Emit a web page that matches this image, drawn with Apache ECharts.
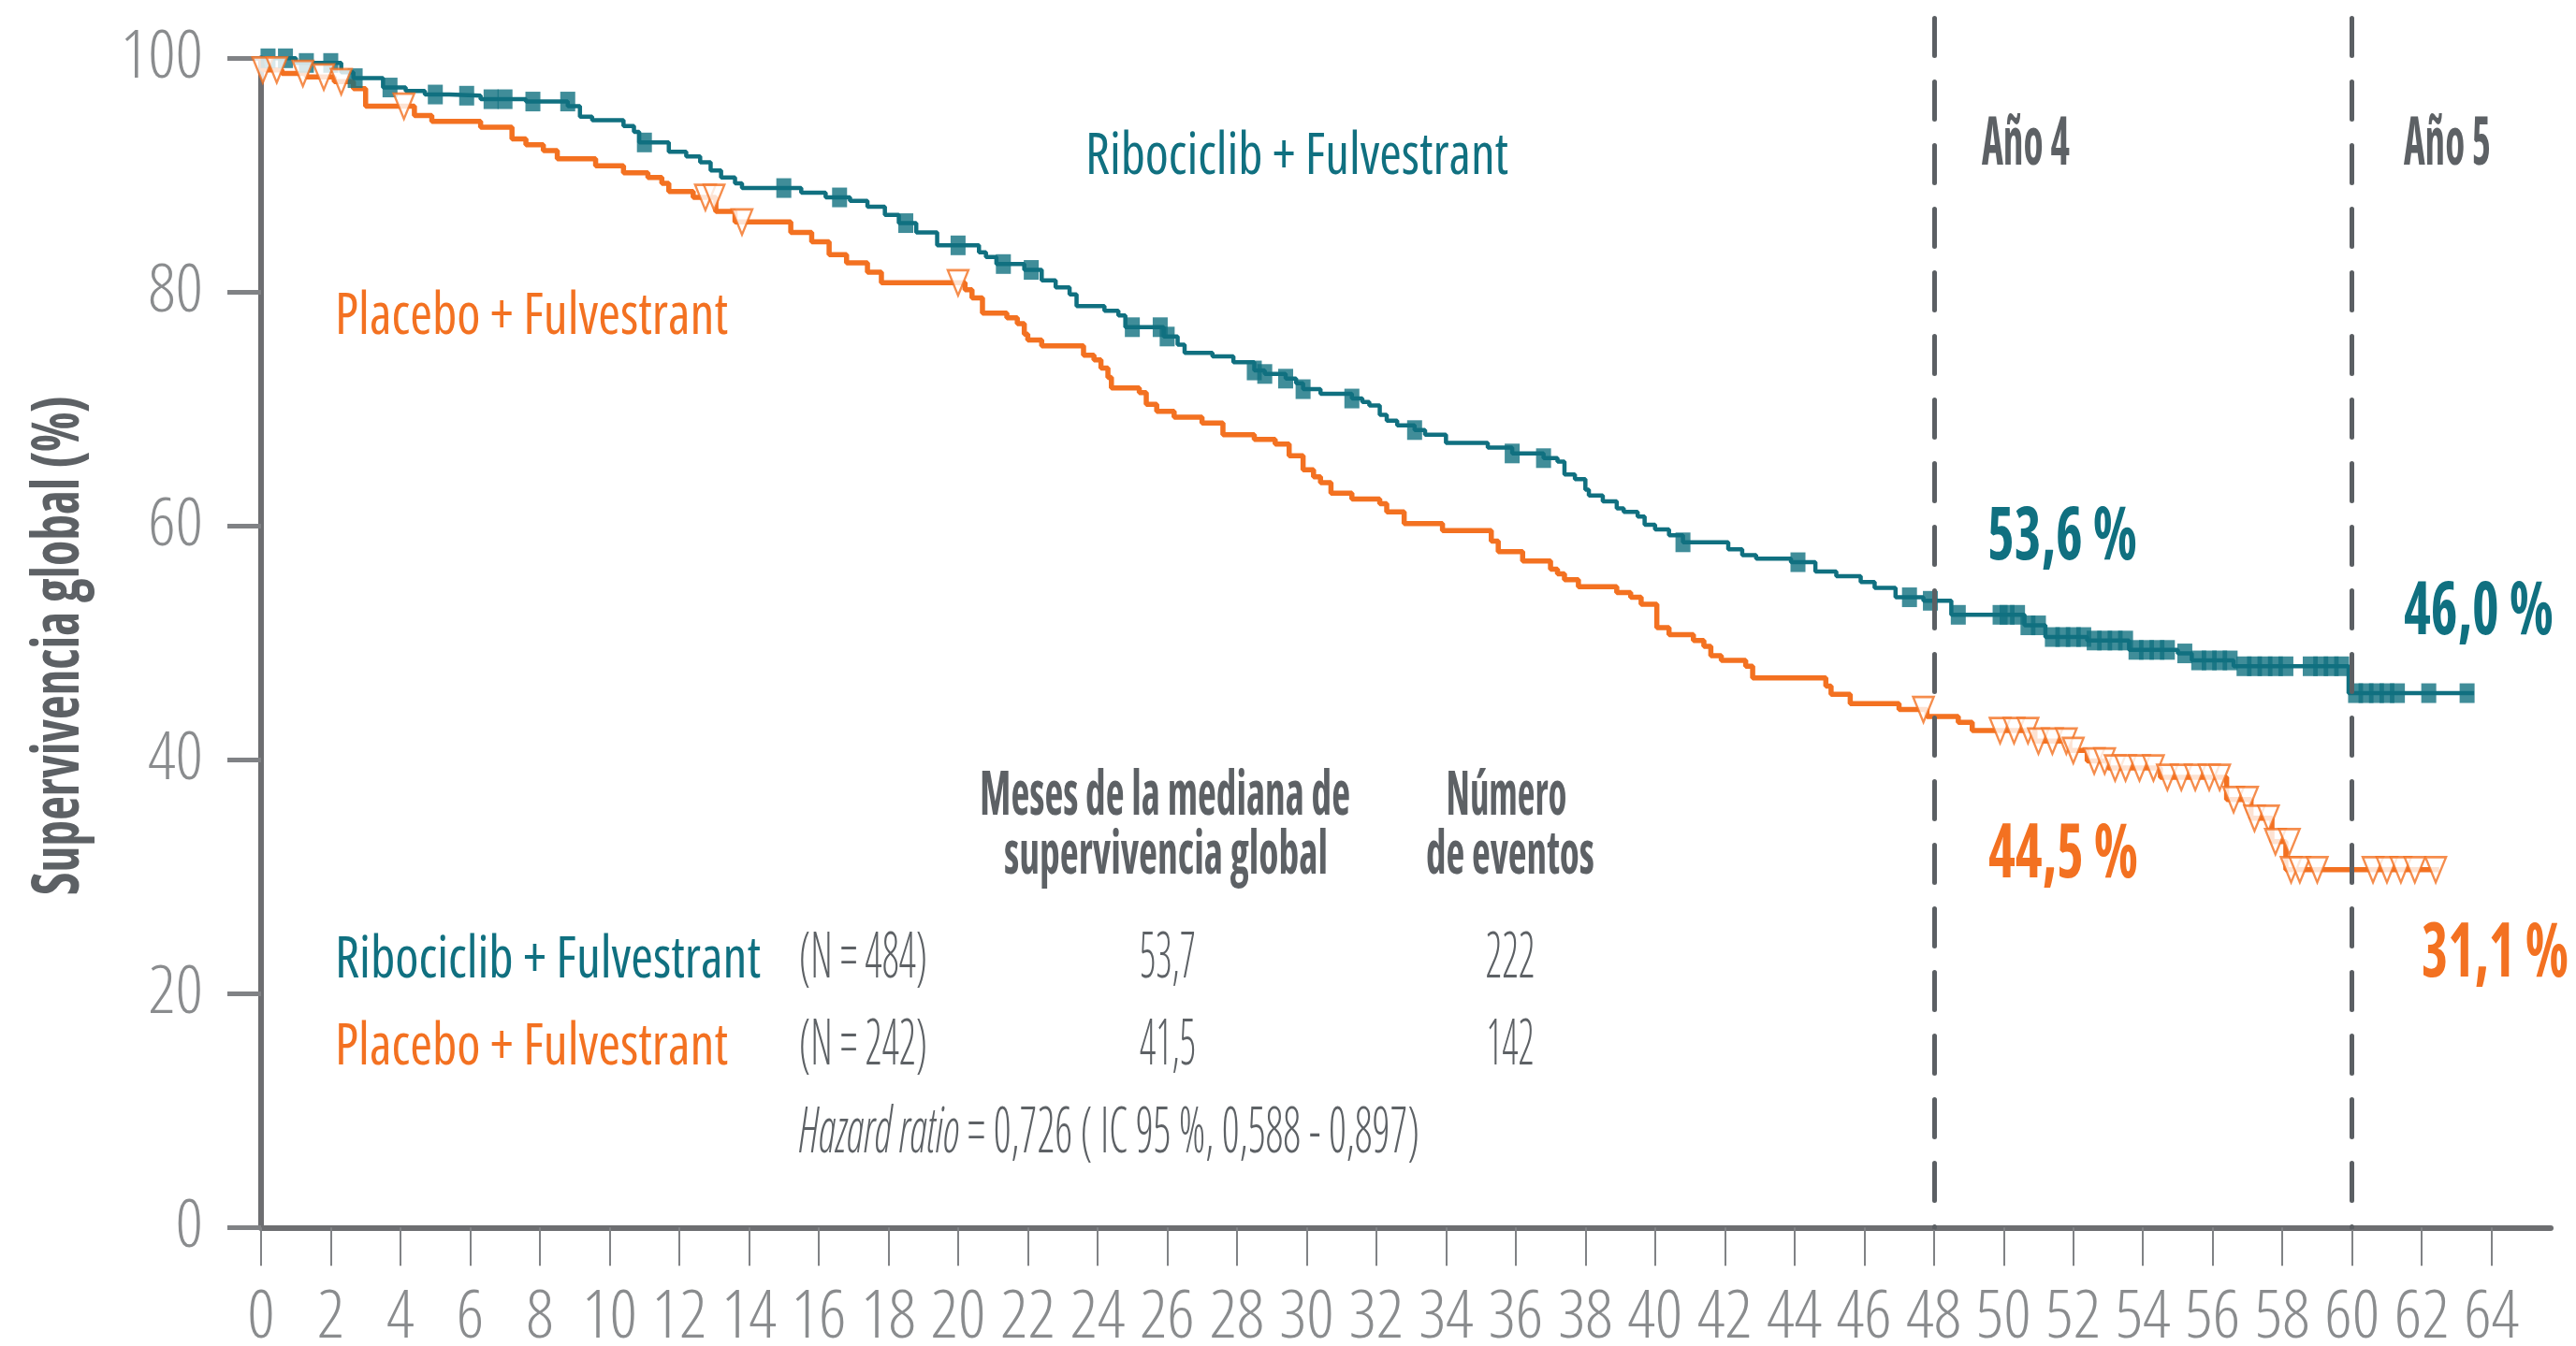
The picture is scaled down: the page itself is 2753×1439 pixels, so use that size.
<!DOCTYPE html>
<html><head><meta charset="utf-8">
<script src="https://cdn.jsdelivr.net/npm/echarts@6.0.0/dist/echarts.min.js"></script>
<style>html,body{margin:0;padding:0;background:#fff}#c{width:2753px;height:1439px}</style>
</head><body><div id="c"></div><script>
// ---------------- DATA ----------------
const xTicks = [0,2,4,6,8,10,12,14,16,18,20,22,24,26,28,30,32,34,36,38,40,42,44,46,48,50,52,54,56,58,60,62,64];
const yTicks = [0,20,40,60,80,100];
const yearMarks = [48, 60];

// Ribociclib + Fulvestrant: KM steps [month, % survival]
const ribociclibSteps = [
[0,100],[1.0,99.6],[2.3,98.8],[2.65,98.3],[3.5,97.5],[4.15,97.2],[4.7,96.9],[5.4,96.8],[6.3,96.5],[7.6,96.3],
[8.8,95.9],[9.15,95.0],[9.5,94.7],[10.4,94.2],[10.7,93.7],[10.85,92.8],[11.7,92.0],[12.2,91.6],[12.6,91.1],[12.9,90.4],
[13.2,89.8],[13.6,89.3],[13.8,88.9],[15.5,88.5],[16.2,88.1],[16.9,87.8],[17.4,87.3],[17.9,86.6],[18.3,85.9],[18.8,85.1],
[19.4,84.0],[20.6,83.4],[20.8,83.0],[21.1,82.4],[21.9,81.9],[22.4,81.0],[22.8,80.4],[23.2,79.8],[23.4,78.8],[24.2,78.4],
[24.6,78.0],[24.8,77.0],[25.9,76.2],[26.3,75.5],[26.5,74.8],[27.3,74.5],[27.9,74.0],[28.5,73.3],[28.8,73.0],[29.4,72.6],
[29.7,72.2],[29.9,71.7],[30.4,71.3],[31.3,70.9],[31.6,70.6],[31.8,70.3],[32.1,69.5],[32.3,69.0],[32.6,68.6],[33.1,68.2],
[33.4,67.8],[34.0,67.1],[35.2,66.7],[35.9,66.2],[36.8,65.8],[37.2,65.5],[37.4,64.4],[37.7,64.0],[38.0,63.1],[38.1,62.6],
[38.5,62.1],[38.9,61.5],[39.1,61.2],[39.5,60.8],[39.7,60.1],[40.0,59.7],[40.4,59.2],[40.8,58.6],[42.1,58.0],[42.5,57.5],
[42.9,57.2],[43.9,56.9],[44.6,56.1],[45.2,55.7],[45.9,55.2],[46.3,54.7],[46.9,53.9],[47.7,53.6],[48.5,52.4],[50.6,51.5],
[51.2,50.5],[52.4,50.2],[53.6,49.4],[55.0,49.1],[55.4,48.5],[56.6,48.0],[59.9,45.7],[63.5,45.7]
];
// Placebo + Fulvestrant: KM steps [month, % survival]
const placeboSteps = [
[0,100],[0.05,99.0],[0.6,98.7],[1.3,98.4],[2.1,98.0],[2.65,97.4],[3.0,95.9],[4.4,95.1],[4.9,94.6],[6.3,94.1],
[7.2,93.1],[7.6,92.6],[8.1,92.1],[8.5,91.4],[9.6,90.8],[10.4,90.2],[11.1,89.8],[11.5,89.3],[11.7,88.6],[12.4,88.1],
[13.05,86.9],[13.6,86.0],[15.2,85.1],[15.8,84.3],[16.3,83.2],[16.8,82.5],[17.4,81.7],[17.8,80.8],[20.2,80.2],[20.4,79.5],
[20.7,78.2],[21.4,77.8],[21.7,77.3],[21.9,76.4],[22.0,75.9],[22.4,75.4],[23.6,74.6],[23.9,74.2],[24.1,73.5],[24.3,72.7],
[24.4,71.8],[25.2,71.4],[25.4,70.4],[25.7,69.8],[26.2,69.3],[27.0,68.8],[27.6,67.8],[28.5,67.4],[29.1,67.0],[29.5,66.0],
[29.9,64.8],[30.2,64.2],[30.4,63.7],[30.7,62.8],[31.3,62.3],[32.1,61.9],[32.3,61.2],[32.8,60.2],[33.9,59.6],[35.3,58.7],
[35.5,57.8],[36.2,57.0],[37.0,56.3],[37.2,55.9],[37.4,55.4],[37.8,54.8],[38.9,54.3],[39.3,53.9],[39.6,53.3],[40.05,51.3],
[40.4,50.7],[41.1,50.2],[41.4,49.7],[41.6,48.9],[41.9,48.5],[42.6,48.0],[42.8,47.0],[44.9,46.3],[45.05,45.6],[45.6,44.8],
[47.0,44.3],[47.8,43.7],[48.7,43.2],[49.1,42.5],[50.9,41.6],[51.9,40.8],[52.4,39.9],[53.0,39.3],[54.5,38.5],[56.4,36.6],
[57.1,35.0],[57.7,33.0],[58.1,30.6],[62.5,30.6]
];
// censored observations
const ribociclibCensored = [
[0.2,100],[0.7,100],[1.3,99.6],[2.0,99.6],[2.7,98.3],[3.7,97.5],[5.0,96.9],[5.9,96.8],[6.6,96.5],[7.0,96.5],
[7.8,96.3],[8.8,96.3],[11.0,92.8],[15.0,88.9],[16.6,88.1],[18.5,85.9],[20.0,84.0],[21.3,82.4],[22.1,81.9],[25.0,77.0],
[25.8,77.0],[26.0,76.2],[28.5,73.3],[28.8,73.0],[29.4,72.6],[29.9,71.7],[31.3,70.9],[33.1,68.2],[35.9,66.2],[36.8,65.8],
[40.8,58.6],[44.1,56.9],[47.3,53.9],[47.9,53.6],[48.7,52.4],[49.9,52.4],[50.1,52.4],[50.4,52.4],[50.7,51.5],[51.0,51.5],
[51.4,50.5],[51.7,50.5],[52.0,50.5],[52.3,50.5],[52.6,50.2],[52.9,50.2],[53.2,50.2],[53.5,50.2],[53.8,49.4],[54.1,49.4],
[54.4,49.4],[54.7,49.4],[55.2,49.1],[55.6,48.5],[55.9,48.5],[56.2,48.5],[56.5,48.5],[56.9,48.0],[57.2,48.0],[57.5,48.0],
[57.8,48.0],[58.1,48.0],[58.8,48.0],[59.1,48.0],[59.4,48.0],[59.7,48.0],[60.1,45.7],[60.4,45.7],[60.7,45.7],[61.0,45.7],
[61.3,45.7],[62.2,45.7],[63.3,45.7]
];
const placeboCensored = [
[0.05,99.0],[0.45,99.0],[1.2,98.7],[1.8,98.4],[2.3,98.0],[4.1,95.9],[12.75,88.1],[13.0,88.1],[13.8,86.0],[20.0,80.8],
[47.7,44.3],[49.9,42.5],[50.3,42.5],[50.7,42.5],[51.0,41.6],[51.4,41.6],[51.8,41.6],[52.0,40.8],[52.6,39.9],[52.9,39.9],
[53.2,39.3],[53.5,39.3],[53.9,39.3],[54.3,39.3],[54.7,38.5],[55.1,38.5],[55.5,38.5],[55.9,38.5],[56.2,38.5],[56.6,36.6],
[57.0,36.6],[57.2,35.0],[57.6,35.0],[57.8,33.0],[58.2,33.0],[58.25,30.6],[58.5,30.6],[59.0,30.6],[60.6,30.6],[61.0,30.6],
[61.4,30.6],[61.8,30.6],[62.4,30.6]
];

// ---------------- STYLE ----------------
const TEAL = '#107080', ORANGE = '#f37121', GRAY = '#5d6165', AXIS = '#6d6e71', TICKTXT = '#8a8c8e';

// pick the narrowest installed sans face (condensed if available)
const mctx = document.createElement('canvas').getContext('2d');
function mw(font, s) { mctx.font = '1px serif'; mctx.font = font; return mctx.measureText(s).width; }
const named = ['Noto Sans ExtraCondensed','Noto Sans Condensed','Noto Sans SemiCondensed','Roboto Condensed',
  'Liberation Sans Narrow','DejaVu Sans Condensed','Open Sans Condensed','Noto Sans Display ExtraCondensed','Noto Sans Display Condensed'];
const fams = ['Noto Sans','Open Sans','Roboto','Inter','Lato','Liberation Sans','DejaVu Sans'];
const stretches = ['ultra-condensed','extra-condensed','condensed','semi-condensed','normal'];
const cands = [];
named.forEach(f => cands.push({fam: f, st: 'normal'}));
fams.forEach(f => stretches.forEach(s => cands.push({fam: f, st: s})));
let best = null;
cands.forEach(c => {
  const a = mw(c.st + ' normal 100px "' + c.fam + '", monospace', '0123456789');
  const b = mw(c.st + ' normal 100px "' + c.fam + '", serif', '0123456789');
  if (a > 200 && Math.abs(a - b) < 0.5 && (!best || a < best.w - 0.5)) best = {fam: c.fam, st: c.st, w: a};
});
if (!best) best = {fam: 'Roboto', st: 'normal', w: 0};
const FAM = '"' + best.fam + '", "Roboto", sans-serif';
const ST = best.st;

function fontStr(size, weight, italic) {
  return (italic ? 'italic ' : '') + ST + ' ' + (weight || 'normal') + ' ' + size + 'px ' + FAM;
}
function metrics(weight, italic, ch) {
  mctx.font = fontStr(100, weight, italic);
  mctx.textBaseline = 'alphabetic';
  const cap = mctx.measureText(ch || 'H').actualBoundingBoxAscent / 100;
  mctx.textBaseline = 'middle';
  const aMid = mctx.measureText(ch || 'H').actualBoundingBoxAscent / 100;
  mctx.textBaseline = 'alphabetic';
  return {cap: cap, aMid: aMid};
}
function textW(str, size, weight, italic) {
  mctx.font = fontStr(size, weight, italic);
  return mctx.measureText(str).width;
}
function txt(o) {
  const m = metrics(o.wt);
  const size = o.cap / m.cap;
  const sx = o.w / textW(o.t, size, o.wt);
  return {
    type: 'text', x: o.x, y: o.base - o.cap + m.aMid * size, scaleX: sx, z: 100, silent: true,
    style: { text: o.t, fill: o.c || GRAY, fontSize: size, fontFamily: FAM, fontStyle: ST, fontWeight: o.wt || 'normal',
      align: o.align || 'left', verticalAlign: 'middle', textAlign: o.align || 'left', textVerticalAlign: 'middle' }
  };
}
const texts = [
  {t:'Ribociclib + Fulvestrant', x:1160, base:186, cap:45, w:452, c:TEAL, wt:500},
  {t:'Placebo + Fulvestrant', x:358, base:357, cap:45, w:420, c:ORANGE, wt:500},
  {t:'Año 4', x:2118, base:176, cap:51, w:94, c:GRAY, wt:'bold'},
  {t:'Año 5', x:2569, base:176, cap:51, w:93, c:GRAY, wt:'bold'},
  {t:'53,6 %', x:2124, base:598, cap:57, w:160, c:TEAL, wt:'bold'},
  {t:'46,0 %', x:2569, base:678, cap:57, w:160, c:TEAL, wt:'bold'},
  {t:'44,5 %', x:2125, base:938, cap:58, w:160, c:ORANGE, wt:'bold'},
  {t:'31,1 %', x:2588, base:1044, cap:58, w:157, c:ORANGE, wt:'bold'},
  {t:'Meses de la mediana de', x:1245, align:'center', base:871, cap:48, w:396, wt:'bold'},
  {t:'supervivencia global', x:1246, align:'center', base:934, cap:47, w:346, wt:'bold'},
  {t:'Número', x:1610, align:'center', base:871, cap:48, w:129, wt:'bold'},
  {t:'de eventos', x:1614, align:'center', base:934, cap:47, w:180, wt:'bold'},
  {t:'Ribociclib + Fulvestrant', x:358, base:1045, cap:45, w:455, c:TEAL, wt:500},
  {t:'(N = 484)', x:854, base:1045, cap:48, w:137, wt:300},
  {t:'53,7', x:1248, align:'center', base:1045, cap:48, w:60, wt:300},
  {t:'222', x:1614, align:'center', base:1045, cap:48, w:53, wt:300},
  {t:'Placebo + Fulvestrant', x:358, base:1138, cap:45, w:420, c:ORANGE, wt:500},
  {t:'(N = 242)', x:854, base:1138, cap:48, w:137, wt:300},
  {t:'41,5', x:1248, align:'center', base:1138, cap:48, w:60, wt:300},
  {t:'142', x:1614, align:'center', base:1138, cap:48, w:51, wt:300}
];
const elements = texts.map(txt);

// y-axis title (rotated, baseline at x = 84)
(function(){
  const s = 'Supervivencia global (%)', m = metrics('bold');
  const size = 50 / m.cap;
  const sx = 534 / textW(s, size, 'bold');
  elements.push({type:'text', x: 84 - 50 + m.aMid * size, y: 690, rotation: Math.PI / 2, scaleX: sx, z: 100, silent: true,
    style:{text: s, fill: GRAY, fontSize: size, fontFamily: FAM, fontStyle: ST, fontWeight: 'bold',
      align:'center', verticalAlign:'middle', textAlign:'center', textVerticalAlign:'middle'}});
})();
// hazard ratio line
(function(){
  const cap = 49, m = metrics(300);
  const size = cap / m.cap;
  const a = 'Hazard ratio', b = ' = 0,726 ( IC 95 %, 0,588 - 0,897)';
  const w = textW(a, size, 300, true) + textW(b, size, 300);
  const sx = 663 / w;
  elements.push({type:'text', x: 854, y: 1232 - cap + m.aMid * size, scaleX: sx, z: 100, silent: true,
    style:{text: '{i|' + a + '}' + b, fill: GRAY, fontSize: size, fontFamily: FAM, fontStyle: ST, fontWeight: 300,
      align:'left', verticalAlign:'middle', textAlign:'left', textVerticalAlign:'middle',
      rich:{ i:{ fontStyle: 'italic ' + ST, fontSize: size, fontFamily: FAM, fontWeight: 300, fill: GRAY, color: GRAY } } }});
})();

// axis label font geometry (digit height 52 px)
const dm = metrics(300, false, '0');
const AXSIZE = 52 / dm.cap;
const xLabelMargin = 1404 + dm.aMid * AXSIZE - 26 - 1312.3 - AXSIZE / 2;

const chart = echarts.init(document.getElementById('c'), null, {renderer: 'canvas'});
const gridPos = {left: 279, right: 27, bottom: 126.7};
const axisLabelStyle = {color: TICKTXT, fontSize: AXSIZE, fontFamily: FAM, fontStyle: ST, fontWeight: 300, lineHeight: AXSIZE};
const option = {
  animation: false,
  backgroundColor: '#ffffff',
  grid: [
    Object.assign({top: 62.3, containLabel: false, outerBoundsMode: 'none'}, gridPos),
    Object.assign({top: 19.5, containLabel: false, outerBoundsMode: 'none'}, gridPos)
  ],
  xAxis: [{
    type: 'value', gridIndex: 0, min: 0, max: 65.7, interval: 2,
    splitLine: {show: false},
    axisLine: {show: true, onZero: false, lineStyle: {color: AXIS, width: 6}},
    axisTick: {show: true, length: 41, customValues: xTicks, lineStyle: {color: '#808285', width: 2}},
    axisLabel: Object.assign({show: true, margin: xLabelMargin, customValues: xTicks, showMinLabel: true, showMaxLabel: true,
      hideOverlap: false, formatter: v => (xTicks.indexOf(v) >= 0 ? String(v) : '')}, axisLabelStyle)
  }, {
    type: 'value', gridIndex: 1, min: 0, max: 65.7, show: false
  }],
  yAxis: [{
    type: 'value', gridIndex: 0, min: 0, max: 100, interval: 20,
    splitLine: {show: false},
    axisLine: {show: true, onZero: false, lineStyle: {color: AXIS, width: 6}},
    axisTick: {show: true, length: 36, customValues: yTicks, lineStyle: {color: '#808285', width: 5}},
    axisLabel: Object.assign({show: true, margin: 62, customValues: yTicks, showMinLabel: true, showMaxLabel: true}, axisLabelStyle)
  }, {
    type: 'value', gridIndex: 1, min: 0, max: 1, show: false
  }],
  series: [
    {
      name: 'Placebo + Fulvestrant', type: 'line', step: 'end', data: placeboSteps, showSymbol: false, clip: false,
      lineStyle: {color: ORANGE, width: 5.5}, z: 2, silent: true
    },
    {
      name: 'Ribociclib + Fulvestrant', type: 'line', step: 'end', data: ribociclibSteps, showSymbol: false, clip: false,
      lineStyle: {color: TEAL, width: 4.5}, z: 2, silent: true
    },
    {
      name: 'years', type: 'line', xAxisIndex: 1, yAxisIndex: 1, data: [], z: 3, silent: true,
      markLine: {
        silent: true, symbol: ['none', 'none'], label: {show: false},
        lineStyle: {color: '#5b5f63', width: 5, type: [40, 28], cap: 'round'},
        data: yearMarks.map(m => [{coord: [m, 1]}, {coord: [m, 0]}])
      }
    },
    {
      name: 'Ribociclib censurado', type: 'scatter', data: ribociclibCensored, symbol: 'rect', symbolSize: [16, 21],
      itemStyle: {color: TEAL}, z: 4, clip: false, silent: true
    },
    {
      name: 'Placebo censurado', type: 'scatter', data: placeboCensored, symbol: 'triangle', symbolRotate: 180,
      symbolSize: [22, 27], itemStyle: {color: '#ffffff', borderColor: ORANGE, borderWidth: 2.5}, z: 4, clip: false, silent: true
    }
  ],
  graphic: {elements: elements}
};
chart.setOption(option);
</script></body></html>
